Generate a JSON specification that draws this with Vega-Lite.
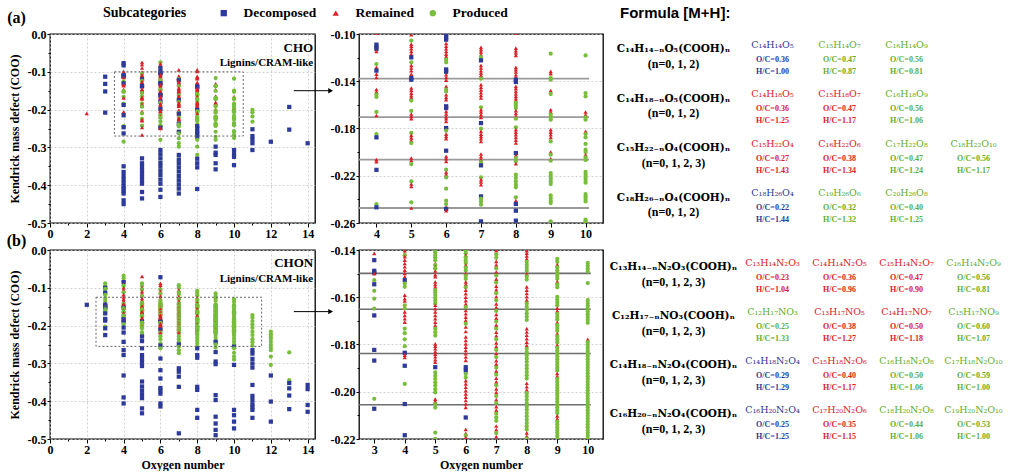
{
"$schema": "https://vega.github.io/schema/vega-lite/v6.json",
"padding": {"left": 6, "top": 5, "right": 0, "bottom": 0},
"background": "#ffffff",
"columns": 3,
"spacing": {"row": 27, "column": 44},
"bounds": "flush",
"resolve": {"scale": {"color": "independent", "shape": "independent"}, "legend": {"color": "independent", "shape": "independent"}},
"config": {
  "font": "Liberation Serif",
  "view": {"stroke": "#000", "strokeWidth": 1.3},
  "axis": {"labelFont": "Liberation Serif", "labelFontWeight": "bold", "labelFontSize": 12, "labelColor": "#000", "titleFont": "Liberation Serif", "titleFontWeight": "bold", "titleFontSize": 12, "titleColor": "#000", "domain": false, "tickColor": "#000", "tickWidth": 1, "gridColor": "#c4c4c4", "gridDash": [2, 2], "gridWidth": 0.8, "tickSize": 4, "labelPadding": 1, "labelFlush": false, "labelOverlap": false, "tickCount": 100}
},
"datasets": {
"A": [
{"o":2,"k":-0.21,"c":"R"},
{"o":3,"k":-0.113,"c":"D"},{"o":3,"k":-0.132,"c":"D"},{"o":3,"k":-0.152,"c":"D"},{"o":3,"k":-0.208,"c":"D"},
{"o":4,"k":-0.077,"c":"D"},{"o":4,"k":-0.083,"c":"D"},{"o":4,"k":-0.099,"c":"R"},{"o":4,"k":-0.109,"c":"D"},{"o":4,"k":-0.111,"c":"D"},{"o":4,"k":-0.1127,"c":"D"},{"o":4,"k":-0.1147,"c":"R"},{"o":4,"k":-0.1254,"c":"P"},{"o":4,"k":-0.1282,"c":"R"},{"o":4,"k":-0.131,"c":"D"},{"o":4,"k":-0.1339,"c":"R"},{"o":4,"k":-0.1367,"c":"R"},{"o":4,"k":-0.147,"c":"R"},{"o":4,"k":-0.149,"c":"R"},{"o":4,"k":-0.1513,"c":"P"},{"o":4,"k":-0.1533,"c":"P"},{"o":4,"k":-0.166,"c":"P"},{"o":4,"k":-0.169,"c":"R"},{"o":4,"k":-0.1847,"c":"P"},{"o":4,"k":-0.1875,"c":"D"},{"o":4,"k":-0.2064,"c":"R"},{"o":4,"k":-0.208,"c":"R"},{"o":4,"k":-0.215,"c":"D"},{"o":4,"k":-0.244,"c":"P"},{"o":4,"k":-0.2467,"c":"D"},{"o":4,"k":-0.263,"c":"D"},{"o":4,"k":-0.285,"c":"P"},{"o":4,"k":-0.35,"c":"D"},{"o":4,"k":-0.365,"c":"D"},{"o":4,"k":-0.376,"c":"D"},{"o":4,"k":-0.385,"c":"D"},{"o":4,"k":-0.394,"c":"D"},{"o":4,"k":-0.403,"c":"D"},{"o":4,"k":-0.409,"c":"D"},{"o":4,"k":-0.415,"c":"D"},{"o":4,"k":-0.422,"c":"D"},{"o":4,"k":-0.44,"c":"D"},{"o":4,"k":-0.45,"c":"D"},
{"o":5,"k":-0.075,"c":"R"},{"o":5,"k":-0.081,"c":"R"},{"o":5,"k":-0.09,"c":"R"},{"o":5,"k":-0.1006,"c":"R"},{"o":5,"k":-0.1056,"c":"P"},{"o":5,"k":-0.1085,"c":"R"},{"o":5,"k":-0.1104,"c":"R"},{"o":5,"k":-0.1124,"c":"R"},{"o":5,"k":-0.1147,"c":"R"},{"o":5,"k":-0.117,"c":"R"},{"o":5,"k":-0.1198,"c":"D"},{"o":5,"k":-0.124,"c":"P"},{"o":5,"k":-0.1265,"c":"R"},{"o":5,"k":-0.1288,"c":"R"},{"o":5,"k":-0.131,"c":"R"},{"o":5,"k":-0.1339,"c":"R"},{"o":5,"k":-0.1373,"c":"D"},{"o":5,"k":-0.1387,"c":"D"},{"o":5,"k":-0.1457,"c":"R"},{"o":5,"k":-0.1477,"c":"R"},{"o":5,"k":-0.15,"c":"R"},{"o":5,"k":-0.1522,"c":"R"},{"o":5,"k":-0.154,"c":"R"},{"o":5,"k":-0.1564,"c":"P"},{"o":5,"k":-0.165,"c":"P"},{"o":5,"k":-0.1677,"c":"R"},{"o":5,"k":-0.1697,"c":"R"},{"o":5,"k":-0.1717,"c":"R"},{"o":5,"k":-0.1838,"c":"P"},{"o":5,"k":-0.1858,"c":"R"},{"o":5,"k":-0.188,"c":"R"},{"o":5,"k":-0.19,"c":"R"},{"o":5,"k":-0.1923,"c":"P"},{"o":5,"k":-0.205,"c":"R"},{"o":5,"k":-0.207,"c":"R"},{"o":5,"k":-0.2101,"c":"P"},{"o":5,"k":-0.2247,"c":"P"},{"o":5,"k":-0.227,"c":"R"},{"o":5,"k":-0.229,"c":"R"},{"o":5,"k":-0.2425,"c":"P"},{"o":5,"k":-0.2473,"c":"R"},{"o":5,"k":-0.267,"c":"R"},{"o":5,"k":-0.329,"c":"D"},{"o":5,"k":-0.342,"c":"D"},{"o":5,"k":-0.351,"c":"D"},{"o":5,"k":-0.36,"c":"D"},{"o":5,"k":-0.369,"c":"D"},{"o":5,"k":-0.378,"c":"D"},{"o":5,"k":-0.387,"c":"D"},{"o":5,"k":-0.396,"c":"D"},{"o":5,"k":-0.418,"c":"D"},{"o":5,"k":-0.435,"c":"D"},
{"o":6,"k":-0.075,"c":"P"},{"o":6,"k":-0.079,"c":"R"},{"o":6,"k":-0.084,"c":"R"},{"o":6,"k":-0.09,"c":"D"},{"o":6,"k":-0.1005,"c":"D"},{"o":6,"k":-0.1028,"c":"D"},{"o":6,"k":-0.1048,"c":"D"},{"o":6,"k":-0.108,"c":"R"},{"o":6,"k":-0.1104,"c":"R"},{"o":6,"k":-0.1124,"c":"R"},{"o":6,"k":-0.1147,"c":"R"},{"o":6,"k":-0.117,"c":"R"},{"o":6,"k":-0.119,"c":"R"},{"o":6,"k":-0.1217,"c":"P"},{"o":6,"k":-0.124,"c":"P"},{"o":6,"k":-0.13,"c":"D"},{"o":6,"k":-0.132,"c":"D"},{"o":6,"k":-0.1345,"c":"R"},{"o":6,"k":-0.1367,"c":"R"},{"o":6,"k":-0.139,"c":"R"},{"o":6,"k":-0.1443,"c":"R"},{"o":6,"k":-0.1471,"c":"P"},{"o":6,"k":-0.1486,"c":"P"},{"o":6,"k":-0.1514,"c":"R"},{"o":6,"k":-0.1536,"c":"R"},{"o":6,"k":-0.1556,"c":"R"},{"o":6,"k":-0.1612,"c":"D"},{"o":6,"k":-0.1627,"c":"D"},{"o":6,"k":-0.1655,"c":"R"},{"o":6,"k":-0.1677,"c":"R"},{"o":6,"k":-0.17,"c":"R"},{"o":6,"k":-0.1717,"c":"R"},{"o":6,"k":-0.174,"c":"R"},{"o":6,"k":-0.1796,"c":"D"},{"o":6,"k":-0.1818,"c":"P"},{"o":6,"k":-0.1847,"c":"R"},{"o":6,"k":-0.1867,"c":"R"},{"o":6,"k":-0.1886,"c":"R"},{"o":6,"k":-0.1988,"c":"D"},{"o":6,"k":-0.2036,"c":"R"},{"o":6,"k":-0.2056,"c":"R"},{"o":6,"k":-0.2078,"c":"R"},{"o":6,"k":-0.2149,"c":"P"},{"o":6,"k":-0.2171,"c":"R"},{"o":6,"k":-0.219,"c":"R"},{"o":6,"k":-0.2214,"c":"P"},{"o":6,"k":-0.231,"c":"P"},{"o":6,"k":-0.2411,"c":"P"},{"o":6,"k":-0.244,"c":"P"},{"o":6,"k":-0.2468,"c":"R"},{"o":6,"k":-0.248,"c":"D"},{"o":6,"k":-0.2496,"c":"R"},{"o":6,"k":-0.28,"c":"P"},{"o":6,"k":-0.307,"c":"D"},{"o":6,"k":-0.318,"c":"D"},{"o":6,"k":-0.329,"c":"D"},{"o":6,"k":-0.341,"c":"D"},{"o":6,"k":-0.351,"c":"D"},{"o":6,"k":-0.362,"c":"D"},{"o":6,"k":-0.373,"c":"D"},{"o":6,"k":-0.385,"c":"D"},{"o":6,"k":-0.396,"c":"D"},{"o":6,"k":-0.412,"c":"D"},{"o":6,"k":-0.431,"c":"D"},
{"o":7,"k":-0.095,"c":"R"},{"o":7,"k":-0.1113,"c":"R"},{"o":7,"k":-0.1133,"c":"R"},{"o":7,"k":-0.1152,"c":"R"},{"o":7,"k":-0.1175,"c":"R"},{"o":7,"k":-0.1195,"c":"P"},{"o":7,"k":-0.1223,"c":"D"},{"o":7,"k":-0.1265,"c":"R"},{"o":7,"k":-0.1288,"c":"R"},{"o":7,"k":-0.131,"c":"R"},{"o":7,"k":-0.133,"c":"R"},{"o":7,"k":-0.135,"c":"R"},{"o":7,"k":-0.1378,"c":"P"},{"o":7,"k":-0.1429,"c":"R"},{"o":7,"k":-0.1452,"c":"R"},{"o":7,"k":-0.1474,"c":"R"},{"o":7,"k":-0.1497,"c":"R"},{"o":7,"k":-0.152,"c":"R"},{"o":7,"k":-0.1542,"c":"R"},{"o":7,"k":-0.1621,"c":"P"},{"o":7,"k":-0.1641,"c":"R"},{"o":7,"k":-0.166,"c":"R"},{"o":7,"k":-0.1683,"c":"R"},{"o":7,"k":-0.1706,"c":"R"},{"o":7,"k":-0.1754,"c":"D"},{"o":7,"k":-0.1802,"c":"P"},{"o":7,"k":-0.1824,"c":"R"},{"o":7,"k":-0.1847,"c":"R"},{"o":7,"k":-0.1867,"c":"R"},{"o":7,"k":-0.1886,"c":"R"},{"o":7,"k":-0.1909,"c":"R"},{"o":7,"k":-0.2016,"c":"R"},{"o":7,"k":-0.2039,"c":"R"},{"o":7,"k":-0.2061,"c":"R"},{"o":7,"k":-0.2084,"c":"P"},{"o":7,"k":-0.2112,"c":"D"},{"o":7,"k":-0.2214,"c":"P"},{"o":7,"k":-0.2233,"c":"R"},{"o":7,"k":-0.2253,"c":"R"},{"o":7,"k":-0.2276,"c":"R"},{"o":7,"k":-0.2375,"c":"D"},{"o":7,"k":-0.2394,"c":"P"},{"o":7,"k":-0.2417,"c":"P"},{"o":7,"k":-0.2445,"c":"P"},{"o":7,"k":-0.2586,"c":"D"},{"o":7,"k":-0.263,"c":"P"},{"o":7,"k":-0.276,"c":"P"},{"o":7,"k":-0.289,"c":"P"},{"o":7,"k":-0.298,"c":"P"},{"o":7,"k":-0.32,"c":"D"},{"o":7,"k":-0.332,"c":"D"},{"o":7,"k":-0.342,"c":"D"},{"o":7,"k":-0.353,"c":"D"},{"o":7,"k":-0.364,"c":"D"},{"o":7,"k":-0.376,"c":"D"},{"o":7,"k":-0.387,"c":"D"},{"o":7,"k":-0.398,"c":"D"},{"o":7,"k":-0.409,"c":"D"},{"o":7,"k":-0.422,"c":"D"},
{"o":8,"k":-0.095,"c":"R"},{"o":8,"k":-0.099,"c":"R"},{"o":8,"k":-0.1119,"c":"R"},{"o":8,"k":-0.1141,"c":"R"},{"o":8,"k":-0.1161,"c":"R"},{"o":8,"k":-0.1181,"c":"R"},{"o":8,"k":-0.1282,"c":"R"},{"o":8,"k":-0.1302,"c":"R"},{"o":8,"k":-0.1322,"c":"R"},{"o":8,"k":-0.1345,"c":"R"},{"o":8,"k":-0.1364,"c":"R"},{"o":8,"k":-0.1387,"c":"D"},{"o":8,"k":-0.1406,"c":"D"},{"o":8,"k":-0.1443,"c":"R"},{"o":8,"k":-0.1463,"c":"R"},{"o":8,"k":-0.1485,"c":"R"},{"o":8,"k":-0.1508,"c":"R"},{"o":8,"k":-0.1528,"c":"R"},{"o":8,"k":-0.1548,"c":"R"},{"o":8,"k":-0.1564,"c":"R"},{"o":8,"k":-0.1584,"c":"P"},{"o":8,"k":-0.1604,"c":"P"},{"o":8,"k":-0.1627,"c":"P"},{"o":8,"k":-0.1649,"c":"R"},{"o":8,"k":-0.1672,"c":"R"},{"o":8,"k":-0.1694,"c":"R"},{"o":8,"k":-0.1717,"c":"P"},{"o":8,"k":-0.179,"c":"P"},{"o":8,"k":-0.181,"c":"R"},{"o":8,"k":-0.183,"c":"R"},{"o":8,"k":-0.1852,"c":"R"},{"o":8,"k":-0.1875,"c":"R"},{"o":8,"k":-0.1898,"c":"R"},{"o":8,"k":-0.1923,"c":"R"},{"o":8,"k":-0.2008,"c":"D"},{"o":8,"k":-0.2027,"c":"R"},{"o":8,"k":-0.205,"c":"P"},{"o":8,"k":-0.2078,"c":"P"},{"o":8,"k":-0.2098,"c":"R"},{"o":8,"k":-0.2191,"c":"P"},{"o":8,"k":-0.2219,"c":"P"},{"o":8,"k":-0.2248,"c":"P"},{"o":8,"k":-0.2276,"c":"P"},{"o":8,"k":-0.2298,"c":"P"},{"o":8,"k":-0.2383,"c":"P"},{"o":8,"k":-0.2411,"c":"R"},{"o":8,"k":-0.2439,"c":"D"},{"o":8,"k":-0.2496,"c":"D"},{"o":8,"k":-0.258,"c":"D"},{"o":8,"k":-0.263,"c":"D"},{"o":8,"k":-0.272,"c":"D"},{"o":8,"k":-0.28,"c":"P"},{"o":8,"k":-0.298,"c":"P"},{"o":8,"k":-0.32,"c":"P"},{"o":8,"k":-0.33,"c":"D"},{"o":8,"k":-0.342,"c":"D"},{"o":8,"k":-0.353,"c":"D"},{"o":8,"k":-0.41,"c":"D"},
{"o":9,"k":-0.1167,"c":"P"},{"o":9,"k":-0.1316,"c":"R"},{"o":9,"k":-0.1336,"c":"R"},{"o":9,"k":-0.1373,"c":"P"},{"o":9,"k":-0.1387,"c":"P"},{"o":9,"k":-0.148,"c":"R"},{"o":9,"k":-0.1508,"c":"P"},{"o":9,"k":-0.1641,"c":"R"},{"o":9,"k":-0.166,"c":"R"},{"o":9,"k":-0.1683,"c":"P"},{"o":9,"k":-0.1706,"c":"P"},{"o":9,"k":-0.1725,"c":"P"},{"o":9,"k":-0.181,"c":"R"},{"o":9,"k":-0.183,"c":"R"},{"o":9,"k":-0.1852,"c":"R"},{"o":9,"k":-0.1875,"c":"R"},{"o":9,"k":-0.1909,"c":"P"},{"o":9,"k":-0.1999,"c":"R"},{"o":9,"k":-0.2022,"c":"P"},{"o":9,"k":-0.2056,"c":"R"},{"o":9,"k":-0.2073,"c":"P"},{"o":9,"k":-0.2177,"c":"P"},{"o":9,"k":-0.22,"c":"P"},{"o":9,"k":-0.2225,"c":"P"},{"o":9,"k":-0.2248,"c":"P"},{"o":9,"k":-0.227,"c":"P"},{"o":9,"k":-0.2366,"c":"P"},{"o":9,"k":-0.2389,"c":"P"},{"o":9,"k":-0.2411,"c":"P"},{"o":9,"k":-0.2431,"c":"P"},{"o":9,"k":-0.2586,"c":"P"},{"o":9,"k":-0.272,"c":"P"},{"o":9,"k":-0.28,"c":"P"},{"o":9,"k":-0.298,"c":"D"},{"o":9,"k":-0.314,"c":"D"},{"o":9,"k":-0.32,"c":"D"},{"o":9,"k":-0.342,"c":"D"},{"o":9,"k":-0.358,"c":"D"},
{"o":10,"k":-0.1181,"c":"P"},{"o":10,"k":-0.15,"c":"P"},{"o":10,"k":-0.1528,"c":"P"},{"o":10,"k":-0.166,"c":"R"},{"o":10,"k":-0.1683,"c":"R"},{"o":10,"k":-0.1706,"c":"P"},{"o":10,"k":-0.1725,"c":"P"},{"o":10,"k":-0.1824,"c":"R"},{"o":10,"k":-0.1847,"c":"P"},{"o":10,"k":-0.1875,"c":"P"},{"o":10,"k":-0.1931,"c":"P"},{"o":10,"k":-0.1979,"c":"P"},{"o":10,"k":-0.1999,"c":"P"},{"o":10,"k":-0.2022,"c":"R"},{"o":10,"k":-0.2044,"c":"P"},{"o":10,"k":-0.2067,"c":"P"},{"o":10,"k":-0.2168,"c":"P"},{"o":10,"k":-0.2191,"c":"P"},{"o":10,"k":-0.2214,"c":"P"},{"o":10,"k":-0.2236,"c":"P"},{"o":10,"k":-0.2259,"c":"P"},{"o":10,"k":-0.2355,"c":"P"},{"o":10,"k":-0.2375,"c":"P"},{"o":10,"k":-0.2394,"c":"P"},{"o":10,"k":-0.2417,"c":"P"},{"o":10,"k":-0.2572,"c":"P"},{"o":10,"k":-0.2586,"c":"P"},{"o":10,"k":-0.267,"c":"P"},{"o":10,"k":-0.275,"c":"P"},{"o":10,"k":-0.307,"c":"D"},{"o":10,"k":-0.316,"c":"D"},{"o":10,"k":-0.325,"c":"D"},{"o":10,"k":-0.347,"c":"D"},
{"o":11,"k":-0.201,"c":"P"},{"o":11,"k":-0.207,"c":"P"},{"o":11,"k":-0.218,"c":"P"},{"o":11,"k":-0.232,"c":"P"},{"o":11,"k":-0.252,"c":"D"},{"o":11,"k":-0.27,"c":"D"},{"o":11,"k":-0.279,"c":"D"},{"o":11,"k":-0.289,"c":"D"},{"o":11,"k":-0.307,"c":"D"},
{"o":12,"k":-0.285,"c":"D"},
{"o":13,"k":-0.193,"c":"D"},{"o":13,"k":-0.253,"c":"D"},
{"o":14,"k":-0.289,"c":"D"}
],
"B": [
{"o":2,"k":-0.145,"c":"D"},
{"o":3,"k":-0.088,"c":"P"},{"o":3,"k":-0.095,"c":"P"},{"o":3,"k":-0.1,"c":"D"},{"o":3,"k":-0.103,"c":"P"},{"o":3,"k":-0.111,"c":"P"},{"o":3,"k":-0.113,"c":"D"},{"o":3,"k":-0.119,"c":"P"},{"o":3,"k":-0.127,"c":"P"},{"o":3,"k":-0.134,"c":"P"},{"o":3,"k":-0.1414,"c":"R"},{"o":3,"k":-0.1443,"c":"D"},{"o":3,"k":-0.1488,"c":"D"},{"o":3,"k":-0.1496,"c":"D"},{"o":3,"k":-0.15,"c":"R"},{"o":3,"k":-0.1528,"c":"P"},{"o":3,"k":-0.1545,"c":"D"},{"o":3,"k":-0.1573,"c":"P"},{"o":3,"k":-0.1606,"c":"P"},{"o":3,"k":-0.1648,"c":"P"},{"o":3,"k":-0.1677,"c":"D"},{"o":3,"k":-0.1823,"c":"D"},{"o":3,"k":-0.1868,"c":"D"},{"o":3,"k":-0.203,"c":"P"},{"o":3,"k":-0.2072,"c":"D"},{"o":3,"k":-0.225,"c":"D"},
{"o":4,"k":-0.068,"c":"P"},{"o":4,"k":-0.075,"c":"P"},{"o":4,"k":-0.083,"c":"P"},{"o":4,"k":-0.085,"c":"D"},{"o":4,"k":-0.09,"c":"R"},{"o":4,"k":-0.095,"c":"P"},{"o":4,"k":-0.1,"c":"R"},{"o":4,"k":-0.106,"c":"R"},{"o":4,"k":-0.112,"c":"P"},{"o":4,"k":-0.118,"c":"R"},{"o":4,"k":-0.124,"c":"R"},{"o":4,"k":-0.13,"c":"R"},{"o":4,"k":-0.135,"c":"R"},{"o":4,"k":-0.1403,"c":"R"},{"o":4,"k":-0.1415,"c":"R"},{"o":4,"k":-0.1422,"c":"P"},{"o":4,"k":-0.1428,"c":"R"},{"o":4,"k":-0.1443,"c":"R"},{"o":4,"k":-0.1457,"c":"R"},{"o":4,"k":-0.1471,"c":"R"},{"o":4,"k":-0.1485,"c":"R"},{"o":4,"k":-0.1499,"c":"R"},{"o":4,"k":-0.1513,"c":"R"},{"o":4,"k":-0.1528,"c":"D"},{"o":4,"k":-0.1542,"c":"P"},{"o":4,"k":-0.1556,"c":"P"},{"o":4,"k":-0.1591,"c":"R"},{"o":4,"k":-0.1606,"c":"R"},{"o":4,"k":-0.1616,"c":"R"},{"o":4,"k":-0.1634,"c":"P"},{"o":4,"k":-0.1648,"c":"P"},{"o":4,"k":-0.1662,"c":"R"},{"o":4,"k":-0.1677,"c":"R"},{"o":4,"k":-0.1691,"c":"R"},{"o":4,"k":-0.1705,"c":"R"},{"o":4,"k":-0.1733,"c":"P"},{"o":4,"k":-0.1752,"c":"P"},{"o":4,"k":-0.1778,"c":"P"},{"o":4,"k":-0.1807,"c":"P"},{"o":4,"k":-0.1835,"c":"D"},{"o":4,"k":-0.1845,"c":"R"},{"o":4,"k":-0.1855,"c":"R"},{"o":4,"k":-0.189,"c":"D"},{"o":4,"k":-0.1967,"c":"P"},{"o":4,"k":-0.2052,"c":"D"},{"o":4,"k":-0.2184,"c":"D"},{"o":4,"k":-0.243,"c":"D"},{"o":4,"k":-0.265,"c":"D"},{"o":4,"k":-0.278,"c":"D"},{"o":4,"k":-0.332,"c":"D"},{"o":4,"k":-0.39,"c":"D"},{"o":4,"k":-0.406,"c":"D"},
{"o":5,"k":-0.07,"c":"R"},{"o":5,"k":-0.088,"c":"P"},{"o":5,"k":-0.095,"c":"P"},{"o":5,"k":-0.1,"c":"R"},{"o":5,"k":-0.105,"c":"P"},{"o":5,"k":-0.11,"c":"R"},{"o":5,"k":-0.116,"c":"R"},{"o":5,"k":-0.122,"c":"P"},{"o":5,"k":-0.128,"c":"R"},{"o":5,"k":-0.134,"c":"R"},{"o":5,"k":-0.14,"c":"P"},{"o":5,"k":-0.141,"c":"P"},{"o":5,"k":-0.1421,"c":"P"},{"o":5,"k":-0.1431,"c":"P"},{"o":5,"k":-0.1443,"c":"P"},{"o":5,"k":-0.1457,"c":"R"},{"o":5,"k":-0.1464,"c":"P"},{"o":5,"k":-0.1471,"c":"R"},{"o":5,"k":-0.1478,"c":"P"},{"o":5,"k":-0.1489,"c":"R"},{"o":5,"k":-0.1504,"c":"R"},{"o":5,"k":-0.1513,"c":"R"},{"o":5,"k":-0.1535,"c":"R"},{"o":5,"k":-0.1546,"c":"R"},{"o":5,"k":-0.1556,"c":"R"},{"o":5,"k":-0.157,"c":"P"},{"o":5,"k":-0.158,"c":"P"},{"o":5,"k":-0.1591,"c":"P"},{"o":5,"k":-0.1603,"c":"P"},{"o":5,"k":-0.1614,"c":"P"},{"o":5,"k":-0.1626,"c":"P"},{"o":5,"k":-0.1634,"c":"R"},{"o":5,"k":-0.1648,"c":"R"},{"o":5,"k":-0.1662,"c":"R"},{"o":5,"k":-0.1677,"c":"R"},{"o":5,"k":-0.1691,"c":"R"},{"o":5,"k":-0.1705,"c":"R"},{"o":5,"k":-0.1719,"c":"R"},{"o":5,"k":-0.1733,"c":"P"},{"o":5,"k":-0.1748,"c":"P"},{"o":5,"k":-0.1762,"c":"P"},{"o":5,"k":-0.1797,"c":"R"},{"o":5,"k":-0.1807,"c":"R"},{"o":5,"k":-0.1818,"c":"R"},{"o":5,"k":-0.183,"c":"R"},{"o":5,"k":-0.1841,"c":"R"},{"o":5,"k":-0.1852,"c":"R"},{"o":5,"k":-0.1864,"c":"R"},{"o":5,"k":-0.1875,"c":"R"},{"o":5,"k":-0.1896,"c":"D"},{"o":5,"k":-0.1918,"c":"P"},{"o":5,"k":-0.1932,"c":"P"},{"o":5,"k":-0.1946,"c":"P"},{"o":5,"k":-0.196,"c":"P"},{"o":5,"k":-0.1974,"c":"P"},{"o":5,"k":-0.1989,"c":"P"},{"o":5,"k":-0.2003,"c":"P"},{"o":5,"k":-0.2031,"c":"R"},{"o":5,"k":-0.2041,"c":"R"},{"o":5,"k":-0.2052,"c":"P"},{"o":5,"k":-0.2067,"c":"P"},{"o":5,"k":-0.2173,"c":"P"},{"o":5,"k":-0.2199,"c":"P"},{"o":5,"k":-0.225,"c":"P"},{"o":5,"k":-0.229,"c":"D"},{"o":5,"k":-0.241,"c":"D"},{"o":5,"k":-0.26,"c":"D"},{"o":5,"k":-0.278,"c":"D"},{"o":5,"k":-0.288,"c":"D"},{"o":5,"k":-0.297,"c":"D"},{"o":5,"k":-0.307,"c":"D"},{"o":5,"k":-0.348,"c":"D"},{"o":5,"k":-0.361,"c":"D"},{"o":5,"k":-0.372,"c":"D"},{"o":5,"k":-0.382,"c":"D"},{"o":5,"k":-0.392,"c":"D"},{"o":5,"k":-0.419,"c":"D"},{"o":5,"k":-0.432,"c":"D"},
{"o":6,"k":-0.072,"c":"D"},{"o":6,"k":-0.088,"c":"R"},{"o":6,"k":-0.093,"c":"R"},{"o":6,"k":-0.1,"c":"R"},{"o":6,"k":-0.105,"c":"P"},{"o":6,"k":-0.11,"c":"R"},{"o":6,"k":-0.116,"c":"P"},{"o":6,"k":-0.122,"c":"R"},{"o":6,"k":-0.128,"c":"R"},{"o":6,"k":-0.134,"c":"P"},{"o":6,"k":-0.1403,"c":"P"},{"o":6,"k":-0.1414,"c":"P"},{"o":6,"k":-0.1422,"c":"R"},{"o":6,"k":-0.1431,"c":"P"},{"o":6,"k":-0.1443,"c":"P"},{"o":6,"k":-0.1455,"c":"P"},{"o":6,"k":-0.1464,"c":"R"},{"o":6,"k":-0.1475,"c":"P"},{"o":6,"k":-0.1487,"c":"P"},{"o":6,"k":-0.1499,"c":"R"},{"o":6,"k":-0.151,"c":"P"},{"o":6,"k":-0.1522,"c":"P"},{"o":6,"k":-0.1535,"c":"R"},{"o":6,"k":-0.1546,"c":"R"},{"o":6,"k":-0.1558,"c":"P"},{"o":6,"k":-0.157,"c":"R"},{"o":6,"k":-0.1585,"c":"R"},{"o":6,"k":-0.16,"c":"R"},{"o":6,"k":-0.1614,"c":"R"},{"o":6,"k":-0.1628,"c":"R"},{"o":6,"k":-0.1642,"c":"P"},{"o":6,"k":-0.1656,"c":"R"},{"o":6,"k":-0.167,"c":"R"},{"o":6,"k":-0.1684,"c":"R"},{"o":6,"k":-0.1698,"c":"R"},{"o":6,"k":-0.1712,"c":"P"},{"o":6,"k":-0.1726,"c":"R"},{"o":6,"k":-0.1745,"c":"R"},{"o":6,"k":-0.1768,"c":"R"},{"o":6,"k":-0.1783,"c":"R"},{"o":6,"k":-0.1797,"c":"R"},{"o":6,"k":-0.1811,"c":"R"},{"o":6,"k":-0.1825,"c":"R"},{"o":6,"k":-0.1839,"c":"R"},{"o":6,"k":-0.1853,"c":"R"},{"o":6,"k":-0.1867,"c":"R"},{"o":6,"k":-0.1896,"c":"D"},{"o":6,"k":-0.191,"c":"D"},{"o":6,"k":-0.1925,"c":"P"},{"o":6,"k":-0.194,"c":"P"},{"o":6,"k":-0.1953,"c":"R"},{"o":6,"k":-0.1967,"c":"R"},{"o":6,"k":-0.1981,"c":"R"},{"o":6,"k":-0.1995,"c":"R"},{"o":6,"k":-0.2009,"c":"R"},{"o":6,"k":-0.2023,"c":"R"},{"o":6,"k":-0.2037,"c":"R"},{"o":6,"k":-0.2052,"c":"R"},{"o":6,"k":-0.2066,"c":"R"},{"o":6,"k":-0.2109,"c":"D"},{"o":6,"k":-0.2159,"c":"R"},{"o":6,"k":-0.2176,"c":"R"},{"o":6,"k":-0.2185,"c":"P"},{"o":6,"k":-0.2194,"c":"R"},{"o":6,"k":-0.228,"c":"P"},{"o":6,"k":-0.236,"c":"P"},{"o":6,"k":-0.247,"c":"P"},{"o":6,"k":-0.253,"c":"D"},{"o":6,"k":-0.26,"c":"P"},{"o":6,"k":-0.287,"c":"D"},{"o":6,"k":-0.318,"c":"D"},{"o":6,"k":-0.34,"c":"D"},{"o":6,"k":-0.365,"c":"D"},{"o":6,"k":-0.372,"c":"D"},{"o":6,"k":-0.38,"c":"D"},{"o":6,"k":-0.406,"c":"D"},{"o":6,"k":-0.414,"c":"D"},
{"o":7,"k":-0.093,"c":"P"},{"o":7,"k":-0.1,"c":"P"},{"o":7,"k":-0.106,"c":"R"},{"o":7,"k":-0.112,"c":"P"},{"o":7,"k":-0.118,"c":"P"},{"o":7,"k":-0.124,"c":"R"},{"o":7,"k":-0.13,"c":"P"},{"o":7,"k":-0.135,"c":"R"},{"o":7,"k":-0.1403,"c":"R"},{"o":7,"k":-0.1418,"c":"P"},{"o":7,"k":-0.1433,"c":"P"},{"o":7,"k":-0.1448,"c":"R"},{"o":7,"k":-0.1463,"c":"R"},{"o":7,"k":-0.1478,"c":"P"},{"o":7,"k":-0.1493,"c":"R"},{"o":7,"k":-0.1508,"c":"P"},{"o":7,"k":-0.1523,"c":"R"},{"o":7,"k":-0.1538,"c":"P"},{"o":7,"k":-0.1553,"c":"R"},{"o":7,"k":-0.1568,"c":"R"},{"o":7,"k":-0.1583,"c":"P"},{"o":7,"k":-0.1598,"c":"R"},{"o":7,"k":-0.1613,"c":"P"},{"o":7,"k":-0.1628,"c":"R"},{"o":7,"k":-0.1643,"c":"R"},{"o":7,"k":-0.1658,"c":"P"},{"o":7,"k":-0.1673,"c":"R"},{"o":7,"k":-0.1688,"c":"R"},{"o":7,"k":-0.1703,"c":"P"},{"o":7,"k":-0.1718,"c":"R"},{"o":7,"k":-0.1733,"c":"P"},{"o":7,"k":-0.1748,"c":"R"},{"o":7,"k":-0.1763,"c":"R"},{"o":7,"k":-0.1778,"c":"P"},{"o":7,"k":-0.1793,"c":"R"},{"o":7,"k":-0.1808,"c":"R"},{"o":7,"k":-0.1823,"c":"P"},{"o":7,"k":-0.1838,"c":"R"},{"o":7,"k":-0.1853,"c":"P"},{"o":7,"k":-0.1868,"c":"R"},{"o":7,"k":-0.1883,"c":"R"},{"o":7,"k":-0.1898,"c":"P"},{"o":7,"k":-0.1913,"c":"R"},{"o":7,"k":-0.1928,"c":"P"},{"o":7,"k":-0.1943,"c":"R"},{"o":7,"k":-0.1958,"c":"R"},{"o":7,"k":-0.1973,"c":"P"},{"o":7,"k":-0.1988,"c":"R"},{"o":7,"k":-0.2003,"c":"R"},{"o":7,"k":-0.2018,"c":"P"},{"o":7,"k":-0.2033,"c":"R"},{"o":7,"k":-0.2048,"c":"P"},{"o":7,"k":-0.2063,"c":"R"},{"o":7,"k":-0.2078,"c":"R"},{"o":7,"k":-0.2093,"c":"P"},{"o":7,"k":-0.2108,"c":"P"},{"o":7,"k":-0.2123,"c":"P"},{"o":7,"k":-0.2145,"c":"R"},{"o":7,"k":-0.216,"c":"R"},{"o":7,"k":-0.2175,"c":"P"},{"o":7,"k":-0.219,"c":"R"},{"o":7,"k":-0.228,"c":"P"},{"o":7,"k":-0.236,"c":"P"},{"o":7,"k":-0.243,"c":"P"},{"o":7,"k":-0.25,"c":"D"},{"o":7,"k":-0.256,"c":"P"},{"o":7,"k":-0.265,"c":"P"},{"o":7,"k":-0.273,"c":"P"},{"o":7,"k":-0.313,"c":"D"},{"o":7,"k":-0.322,"c":"D"},{"o":7,"k":-0.335,"c":"D"},{"o":7,"k":-0.362,"c":"D"},{"o":7,"k":-0.485,"c":"D"},
{"o":8,"k":-0.108,"c":"P"},{"o":8,"k":-0.114,"c":"P"},{"o":8,"k":-0.12,"c":"P"},{"o":8,"k":-0.126,"c":"R"},{"o":8,"k":-0.132,"c":"P"},{"o":8,"k":-0.138,"c":"P"},{"o":8,"k":-0.1403,"c":"R"},{"o":8,"k":-0.1413,"c":"R"},{"o":8,"k":-0.1425,"c":"R"},{"o":8,"k":-0.1437,"c":"R"},{"o":8,"k":-0.145,"c":"P"},{"o":8,"k":-0.1462,"c":"P"},{"o":8,"k":-0.1475,"c":"P"},{"o":8,"k":-0.1488,"c":"P"},{"o":8,"k":-0.15,"c":"R"},{"o":8,"k":-0.1512,"c":"P"},{"o":8,"k":-0.1525,"c":"P"},{"o":8,"k":-0.1556,"c":"R"},{"o":8,"k":-0.157,"c":"R"},{"o":8,"k":-0.1584,"c":"R"},{"o":8,"k":-0.1598,"c":"R"},{"o":8,"k":-0.1612,"c":"R"},{"o":8,"k":-0.1626,"c":"P"},{"o":8,"k":-0.164,"c":"P"},{"o":8,"k":-0.1654,"c":"P"},{"o":8,"k":-0.1668,"c":"P"},{"o":8,"k":-0.1682,"c":"P"},{"o":8,"k":-0.1696,"c":"P"},{"o":8,"k":-0.1733,"c":"R"},{"o":8,"k":-0.1747,"c":"R"},{"o":8,"k":-0.1761,"c":"R"},{"o":8,"k":-0.1775,"c":"R"},{"o":8,"k":-0.179,"c":"R"},{"o":8,"k":-0.1804,"c":"R"},{"o":8,"k":-0.1818,"c":"P"},{"o":8,"k":-0.1832,"c":"P"},{"o":8,"k":-0.1846,"c":"P"},{"o":8,"k":-0.186,"c":"P"},{"o":8,"k":-0.1874,"c":"P"},{"o":8,"k":-0.1888,"c":"P"},{"o":8,"k":-0.1902,"c":"P"},{"o":8,"k":-0.1916,"c":"P"},{"o":8,"k":-0.193,"c":"P"},{"o":8,"k":-0.1944,"c":"P"},{"o":8,"k":-0.1964,"c":"R"},{"o":8,"k":-0.1978,"c":"R"},{"o":8,"k":-0.1992,"c":"R"},{"o":8,"k":-0.2006,"c":"P"},{"o":8,"k":-0.202,"c":"P"},{"o":8,"k":-0.2034,"c":"P"},{"o":8,"k":-0.2048,"c":"P"},{"o":8,"k":-0.2062,"c":"P"},{"o":8,"k":-0.2076,"c":"P"},{"o":8,"k":-0.209,"c":"P"},{"o":8,"k":-0.2104,"c":"P"},{"o":8,"k":-0.2118,"c":"P"},{"o":8,"k":-0.2132,"c":"P"},{"o":8,"k":-0.2146,"c":"P"},{"o":8,"k":-0.216,"c":"P"},{"o":8,"k":-0.2174,"c":"R"},{"o":8,"k":-0.2188,"c":"R"},{"o":8,"k":-0.2198,"c":"P"},{"o":8,"k":-0.225,"c":"P"},{"o":8,"k":-0.232,"c":"P"},{"o":8,"k":-0.24,"c":"P"},{"o":8,"k":-0.248,"c":"P"},{"o":8,"k":-0.256,"c":"P"},{"o":8,"k":-0.26,"c":"D"},{"o":8,"k":-0.278,"c":"D"},{"o":8,"k":-0.285,"c":"D"},{"o":8,"k":-0.362,"c":"D"},{"o":8,"k":-0.37,"c":"D"},{"o":8,"k":-0.423,"c":"D"},{"o":8,"k":-0.444,"c":"D"},
{"o":9,"k":-0.115,"c":"P"},{"o":9,"k":-0.122,"c":"P"},{"o":9,"k":-0.128,"c":"P"},{"o":9,"k":-0.134,"c":"P"},{"o":9,"k":-0.1438,"c":"P"},{"o":9,"k":-0.145,"c":"P"},{"o":9,"k":-0.1462,"c":"R"},{"o":9,"k":-0.1474,"c":"P"},{"o":9,"k":-0.1486,"c":"P"},{"o":9,"k":-0.1498,"c":"P"},{"o":9,"k":-0.151,"c":"P"},{"o":9,"k":-0.1522,"c":"P"},{"o":9,"k":-0.1534,"c":"R"},{"o":9,"k":-0.1546,"c":"P"},{"o":9,"k":-0.1558,"c":"P"},{"o":9,"k":-0.1598,"c":"P"},{"o":9,"k":-0.161,"c":"P"},{"o":9,"k":-0.1622,"c":"P"},{"o":9,"k":-0.1634,"c":"P"},{"o":9,"k":-0.1646,"c":"R"},{"o":9,"k":-0.1658,"c":"R"},{"o":9,"k":-0.167,"c":"P"},{"o":9,"k":-0.1682,"c":"P"},{"o":9,"k":-0.1694,"c":"P"},{"o":9,"k":-0.1706,"c":"R"},{"o":9,"k":-0.1718,"c":"P"},{"o":9,"k":-0.173,"c":"P"},{"o":9,"k":-0.1742,"c":"P"},{"o":9,"k":-0.1754,"c":"R"},{"o":9,"k":-0.1766,"c":"P"},{"o":9,"k":-0.1778,"c":"P"},{"o":9,"k":-0.179,"c":"P"},{"o":9,"k":-0.1802,"c":"R"},{"o":9,"k":-0.1814,"c":"P"},{"o":9,"k":-0.1826,"c":"P"},{"o":9,"k":-0.1838,"c":"P"},{"o":9,"k":-0.185,"c":"P"},{"o":9,"k":-0.1862,"c":"P"},{"o":9,"k":-0.1874,"c":"P"},{"o":9,"k":-0.1886,"c":"P"},{"o":9,"k":-0.1898,"c":"P"},{"o":9,"k":-0.191,"c":"P"},{"o":9,"k":-0.1922,"c":"R"},{"o":9,"k":-0.1934,"c":"R"},{"o":9,"k":-0.1946,"c":"P"},{"o":9,"k":-0.1958,"c":"P"},{"o":9,"k":-0.197,"c":"P"},{"o":9,"k":-0.1982,"c":"P"},{"o":9,"k":-0.1994,"c":"P"},{"o":9,"k":-0.2006,"c":"P"},{"o":9,"k":-0.2018,"c":"P"},{"o":9,"k":-0.203,"c":"P"},{"o":9,"k":-0.2042,"c":"P"},{"o":9,"k":-0.2054,"c":"P"},{"o":9,"k":-0.2066,"c":"P"},{"o":9,"k":-0.2078,"c":"P"},{"o":9,"k":-0.209,"c":"P"},{"o":9,"k":-0.2102,"c":"R"},{"o":9,"k":-0.2114,"c":"R"},{"o":9,"k":-0.2126,"c":"P"},{"o":9,"k":-0.2138,"c":"P"},{"o":9,"k":-0.215,"c":"P"},{"o":9,"k":-0.2162,"c":"P"},{"o":9,"k":-0.2174,"c":"P"},{"o":9,"k":-0.2186,"c":"P"},{"o":9,"k":-0.2198,"c":"P"},{"o":9,"k":-0.225,"c":"P"},{"o":9,"k":-0.232,"c":"P"},{"o":9,"k":-0.24,"c":"P"},{"o":9,"k":-0.243,"c":"D"},{"o":9,"k":-0.25,"c":"P"},{"o":9,"k":-0.258,"c":"P"},{"o":9,"k":-0.27,"c":"D"},{"o":9,"k":-0.295,"c":"D"},{"o":9,"k":-0.302,"c":"D"},{"o":9,"k":-0.384,"c":"D"},{"o":9,"k":-0.397,"c":"D"},{"o":9,"k":-0.441,"c":"D"},{"o":9,"k":-0.459,"c":"D"},{"o":9,"k":-0.476,"c":"D"},{"o":9,"k":-0.49,"c":"D"},
{"o":10,"k":-0.13,"c":"P"},{"o":10,"k":-0.137,"c":"P"},{"o":10,"k":-0.1455,"c":"P"},{"o":10,"k":-0.1467,"c":"P"},{"o":10,"k":-0.1479,"c":"P"},{"o":10,"k":-0.1491,"c":"P"},{"o":10,"k":-0.154,"c":"P"},{"o":10,"k":-0.1612,"c":"P"},{"o":10,"k":-0.1624,"c":"P"},{"o":10,"k":-0.1636,"c":"P"},{"o":10,"k":-0.1648,"c":"P"},{"o":10,"k":-0.166,"c":"P"},{"o":10,"k":-0.1672,"c":"P"},{"o":10,"k":-0.1684,"c":"P"},{"o":10,"k":-0.1696,"c":"P"},{"o":10,"k":-0.1708,"c":"P"},{"o":10,"k":-0.1778,"c":"R"},{"o":10,"k":-0.179,"c":"P"},{"o":10,"k":-0.1802,"c":"P"},{"o":10,"k":-0.1814,"c":"P"},{"o":10,"k":-0.1826,"c":"P"},{"o":10,"k":-0.1838,"c":"P"},{"o":10,"k":-0.185,"c":"P"},{"o":10,"k":-0.1862,"c":"P"},{"o":10,"k":-0.1874,"c":"P"},{"o":10,"k":-0.1886,"c":"P"},{"o":10,"k":-0.1898,"c":"P"},{"o":10,"k":-0.191,"c":"P"},{"o":10,"k":-0.1922,"c":"P"},{"o":10,"k":-0.1934,"c":"P"},{"o":10,"k":-0.1946,"c":"P"},{"o":10,"k":-0.1958,"c":"P"},{"o":10,"k":-0.197,"c":"P"},{"o":10,"k":-0.1982,"c":"P"},{"o":10,"k":-0.1994,"c":"P"},{"o":10,"k":-0.2006,"c":"P"},{"o":10,"k":-0.2018,"c":"P"},{"o":10,"k":-0.203,"c":"P"},{"o":10,"k":-0.2042,"c":"P"},{"o":10,"k":-0.2054,"c":"P"},{"o":10,"k":-0.2066,"c":"P"},{"o":10,"k":-0.2078,"c":"P"},{"o":10,"k":-0.209,"c":"P"},{"o":10,"k":-0.2102,"c":"P"},{"o":10,"k":-0.2114,"c":"P"},{"o":10,"k":-0.2126,"c":"P"},{"o":10,"k":-0.2138,"c":"P"},{"o":10,"k":-0.215,"c":"P"},{"o":10,"k":-0.2162,"c":"P"},{"o":10,"k":-0.2174,"c":"P"},{"o":10,"k":-0.2186,"c":"P"},{"o":10,"k":-0.2198,"c":"P"},{"o":10,"k":-0.226,"c":"P"},{"o":10,"k":-0.234,"c":"P"},{"o":10,"k":-0.242,"c":"P"},{"o":10,"k":-0.25,"c":"P"},{"o":10,"k":-0.256,"c":"D"},{"o":10,"k":-0.26,"c":"P"},{"o":10,"k":-0.272,"c":"P"},{"o":10,"k":-0.282,"c":"P"},{"o":10,"k":-0.29,"c":"P"},{"o":10,"k":-0.304,"c":"D"},{"o":10,"k":-0.423,"c":"D"},{"o":10,"k":-0.437,"c":"D"},{"o":10,"k":-0.454,"c":"D"},{"o":10,"k":-0.472,"c":"D"},
{"o":11,"k":-0.172,"c":"P"},{"o":11,"k":-0.179,"c":"P"},{"o":11,"k":-0.188,"c":"P"},{"o":11,"k":-0.197,"c":"P"},{"o":11,"k":-0.206,"c":"P"},{"o":11,"k":-0.216,"c":"P"},{"o":11,"k":-0.225,"c":"P"},{"o":11,"k":-0.236,"c":"P"},{"o":11,"k":-0.244,"c":"P"},{"o":11,"k":-0.253,"c":"P"},{"o":11,"k":-0.265,"c":"D"},{"o":11,"k":-0.274,"c":"D"},{"o":11,"k":-0.288,"c":"D"},{"o":11,"k":-0.3,"c":"D"},{"o":11,"k":-0.311,"c":"D"},{"o":11,"k":-0.357,"c":"D"},{"o":11,"k":-0.386,"c":"D"},{"o":11,"k":-0.397,"c":"D"},{"o":11,"k":-0.408,"c":"D"},{"o":11,"k":-0.415,"c":"D"},{"o":11,"k":-0.423,"c":"D"},{"o":11,"k":-0.444,"c":"D"},
{"o":12,"k":-0.216,"c":"P"},{"o":12,"k":-0.223,"c":"P"},{"o":12,"k":-0.229,"c":"P"},{"o":12,"k":-0.235,"c":"P"},{"o":12,"k":-0.243,"c":"P"},{"o":12,"k":-0.251,"c":"P"},{"o":12,"k":-0.258,"c":"P"},{"o":12,"k":-0.265,"c":"P"},{"o":12,"k":-0.282,"c":"P"},{"o":12,"k":-0.304,"c":"P"},{"o":12,"k":-0.332,"c":"D"},{"o":12,"k":-0.401,"c":"D"},{"o":12,"k":-0.454,"c":"D"},
{"o":13,"k":-0.271,"c":"P"},{"o":13,"k":-0.344,"c":"P"},{"o":13,"k":-0.348,"c":"P"},{"o":13,"k":-0.352,"c":"D"},{"o":13,"k":-0.366,"c":"D"},{"o":13,"k":-0.385,"c":"D"},{"o":13,"k":-0.421,"c":"D"},
{"o":14,"k":-0.357,"c":"D"},{"o":14,"k":-0.368,"c":"D"},{"o":14,"k":-0.41,"c":"D"},{"o":14,"k":-0.428,"c":"D"}
],
"tA": [
{"r":0,"col":1,"c":"D","n":"C₁₄H₁₄O₅","oc":"O/C=0.36","hc":"H/C=1.00"},
{"r":0,"col":2,"c":"P","n":"C₁₅H₁₄O₇","oc":"O/C=0.47","hc":"H/C=0.87"},
{"r":0,"col":3,"c":"P","n":"C₁₆H₁₄O₉","oc":"O/C=0.56","hc":"H/C=0.81"},
{"r":1,"col":1,"c":"R","n":"C₁₄H₁₈O₅","oc":"O/C=0.36","hc":"H/C=1.25"},
{"r":1,"col":2,"c":"R","n":"C₁₅H₁₈O₇","oc":"O/C=0.47","hc":"H/C=1.17"},
{"r":1,"col":3,"c":"P","n":"C₁₆H₁₈O₉","oc":"O/C=0.56","hc":"H/C=1.06"},
{"r":2,"col":1,"c":"R","n":"C₁₅H₂₂O₄","oc":"O/C=0.27","hc":"H/C=1.43"},
{"r":2,"col":2,"c":"R","n":"C₁₆H₂₂O₆","oc":"O/C=0.38","hc":"H/C=1.34"},
{"r":2,"col":3,"c":"P","n":"C₁₇H₂₂O₈","oc":"O/C=0.47","hc":"H/C=1.24"},
{"r":2,"col":4,"c":"P","n":"C₁₈H₂₂O₁₀","oc":"O/C=0.56","hc":"H/C=1.17"},
{"r":3,"col":1,"c":"D","n":"C₁₈H₂₆O₄","oc":"O/C=0.22","hc":"H/C=1.44"},
{"r":3,"col":2,"c":"P","n":"C₁₉H₂₆O₆","oc":"O/C=0.32","hc":"H/C=1.32"},
{"r":3,"col":3,"c":"P","n":"C₂₀H₂₆O₈","oc":"O/C=0.40","hc":"H/C=1.25"}
],
"lA": [
{"r":0,"col":0,"l1":"C₁₄H₁₄₋ₙO₅(COOH)ₙ","l2":"(n=0, 1, 2)"},
{"r":1,"col":0,"l1":"C₁₄H₁₈₋ₙO₅(COOH)ₙ","l2":"(n=0, 1, 2)"},
{"r":2,"col":0,"l1":"C₁₅H₂₂₋ₙO₄(COOH)ₙ","l2":"(n=0, 1, 2, 3)"},
{"r":3,"col":0,"l1":"C₁₈H₂₆₋ₙO₄(COOH)ₙ","l2":"(n=0, 1, 2)"}
],
"tB": [
{"r":0,"col":1,"c":"R","n":"C₁₃H₁₄N₂O₃","oc":"O/C=0.23","hc":"H/C=1.04"},
{"r":0,"col":2,"c":"R","n":"C₁₄H₁₄N₂O₅","oc":"O/C=0.36","hc":"H/C=0.96"},
{"r":0,"col":3,"c":"R","n":"C₁₅H₁₄N₂O₇","oc":"O/C=0.47","hc":"H/C=0.90"},
{"r":0,"col":4,"c":"P","n":"C₁₆H₁₄N₂O₉","oc":"O/C=0.56","hc":"H/C=0.81"},
{"r":1,"col":1,"c":"P","n":"C₁₂H₁₇NO₃","oc":"O/C=0.25","hc":"H/C=1.33"},
{"r":1,"col":2,"c":"R","n":"C₁₃H₁₇NO₅","oc":"O/C=0.38","hc":"H/C=1.27"},
{"r":1,"col":3,"c":"R","n":"C₁₄H₁₇NO₇","oc":"O/C=0.50","hc":"H/C=1.18"},
{"r":1,"col":4,"c":"P","n":"C₁₅H₁₇NO₉","oc":"O/C=0.60","hc":"H/C=1.07"},
{"r":2,"col":1,"c":"D","n":"C₁₄H₁₈N₂O₄","oc":"O/C=0.29","hc":"H/C=1.29"},
{"r":2,"col":2,"c":"R","n":"C₁₅H₁₈N₂O₆","oc":"O/C=0.40","hc":"H/C=1.17"},
{"r":2,"col":3,"c":"P","n":"C₁₆H₁₈N₂O₈","oc":"O/C=0.50","hc":"H/C=1.06"},
{"r":2,"col":4,"c":"P","n":"C₁₇H₁₈N₂O₁₀","oc":"O/C=0.59","hc":"H/C=1.00"},
{"r":3,"col":1,"c":"D","n":"C₁₆H₂₀N₂O₄","oc":"O/C=0.25","hc":"H/C=1.25"},
{"r":3,"col":2,"c":"R","n":"C₁₇H₂₀N₂O₆","oc":"O/C=0.35","hc":"H/C=1.15"},
{"r":3,"col":3,"c":"P","n":"C₁₈H₂₀N₂O₈","oc":"O/C=0.44","hc":"H/C=1.06"},
{"r":3,"col":4,"c":"P","n":"C₁₉H₂₀N₂O₁₀","oc":"O/C=0.53","hc":"H/C=1.00"}
],
"lB": [
{"r":0,"col":0,"l1":"C₁₃H₁₄₋ₙN₂O₃(COOH)ₙ","l2":"(n=0, 1, 2, 3)"},
{"r":1,"col":0,"l1":"C₁₂H₁₇₋ₙNO₃(COOH)ₙ","l2":"(n=0, 1, 2, 3)"},
{"r":2,"col":0,"l1":"C₁₄H₁₈₋ₙN₂O₄(COOH)ₙ","l2":"(n=0, 1, 2, 3)"},
{"r":3,"col":0,"l1":"C₁₆H₂₀₋ₙN₂O₄(COOH)ₙ","l2":"(n=0, 1, 2, 3)"}
]
},
"concat": [
{
 "width": 265, "height": 189,
 "layer": [
  {"data": {"name": "A"},
   "mark": {"type": "point", "filled": true, "size": 18, "opacity": 1},
   "encoding": {
    "x": {"field": "o", "type": "quantitative", "scale": {"domain": [0, 14.4], "nice": false, "zero": false},
      "axis": {"title": null, "format": "d", "tickCount": 100, "labelOverlap": false, "values": [0,1,2,3,4,5,6,7,8,9,10,11,12,13,14], "labelExpr": "datum.value % 2 ? '' : datum.label", "tickSize": {"condition": {"test": "datum.value % 2 !== 0", "value": 2}, "value": 4}, "gridOpacity": {"condition": {"test": "datum.value % 2 !== 0", "value": 0}, "value": 1}}},
    "y": {"field": "k", "type": "quantitative", "scale": {"domain": [-0.5, 0], "nice": false, "zero": false},
      "axis": {"title": "Kendrick mass defect (COO)", "tickCount": 100, "labelOverlap": false, "titlePadding": 6, "tickSize": {"condition": {"test": "round(datum.value*100) % 10 !== 0", "value": 2}, "value": 3}, "values": [-0.5,-0.45,-0.4,-0.35,-0.3,-0.25,-0.2,-0.15,-0.1,-0.05,0], "labelExpr": "round(datum.value*100) % 10 !== 0 ? '' : replace(format(datum.value, '.1f'), '\u2212', '-')", "gridOpacity": {"condition": {"test": "round(datum.value*100) % 10 !== 0", "value": 0}, "value": 1}}},
    "color": {"field": "c", "type": "nominal", "scale": {"domain": ["D","R","P"], "range": ["#2d3a9a","#dc2027","#78bd3b"]},
      "legend": {"title": "Subcategories", "orient": "none", "legendX": 53, "legendY": -28, "direction": "horizontal", "titleOrient": "left", "titleFont": "Liberation Serif", "titleFontSize": 14, "titleFontWeight": "bold", "titleColor": "#000", "titlePadding": 30, "labelFont": "Liberation Serif", "labelFontSize": 13.5, "labelFontWeight": "bold", "labelColor": "#000", "symbolSize": 40, "columnPadding": 12, "labelOffset": 13, "labelExpr": "datum.label === 'D' ? 'Decomposed' : datum.label === 'R' ? 'Remained' : 'Produced'"}},
    "shape": {"field": "c", "type": "nominal", "scale": {"domain": ["D","R","P"], "range": ["square","triangle-up","circle"]},
      "legend": {"title": "Subcategories", "orient": "none", "legendX": 53, "legendY": -28, "direction": "horizontal", "titleOrient": "left", "titleFont": "Liberation Serif", "titleFontSize": 14, "titleFontWeight": "bold", "titleColor": "#000", "titlePadding": 30, "labelFont": "Liberation Serif", "labelFontSize": 13.5, "labelFontWeight": "bold", "labelColor": "#000", "symbolSize": 40, "columnPadding": 12, "labelOffset": 13, "labelExpr": "datum.label === 'D' ? 'Decomposed' : datum.label === 'R' ? 'Remained' : 'Produced'"}}
   }},
  {"data": {"values": [{"a": 1}]}, "mark": {"type": "rect", "fillOpacity": 0, "stroke": "#666", "strokeDash": [2, 2], "strokeWidth": 1},
   "encoding": {"x": {"datum": 3.5, "type": "quantitative"}, "x2": {"datum": 10.5}, "y": {"datum": -0.1, "type": "quantitative"}, "y2": {"datum": -0.27}}},
  {"data": {"values": [{"a": 1}]}, "mark": {"type": "rule", "color": "#000", "strokeWidth": 1},
   "encoding": {"x": {"datum": 13.25, "type": "quantitative"}, "x2": {"datum": 15.2}, "y": {"datum": -0.15, "type": "quantitative"}}},
  {"data": {"values": [{"a": 1}]}, "mark": {"type": "point", "shape": "triangle-right", "filled": true, "size": 30, "color": "#000", "opacity": 1},
   "encoding": {"x": {"datum": 15.25, "type": "quantitative"}, "y": {"datum": -0.15, "type": "quantitative"}}},
  {"data": {"values": [{"t": "CHO"}]}, "mark": {"type": "text", "align": "right", "baseline": "middle", "font": "Liberation Serif", "fontSize": 13, "fontWeight": "bold", "color": "#000"},
   "encoding": {"x": {"datum": 14.3, "type": "quantitative"}, "y": {"datum": -0.037, "type": "quantitative"}, "text": {"field": "t"}}},
  {"data": {"values": [{"t": "Lignins/CRAM-like"}]}, "mark": {"type": "text", "align": "right", "baseline": "middle", "font": "Liberation Serif", "fontSize": 11, "fontWeight": "bold", "color": "#000"},
   "encoding": {"x": {"datum": 14.3, "type": "quantitative"}, "y": {"datum": -0.077, "type": "quantitative"}, "text": {"field": "t"}}},
  {"data": {"values": [{"t": "(a)"}]}, "mark": {"type": "text", "align": "center", "baseline": "middle", "font": "Liberation Serif", "fontSize": 16, "fontWeight": "bold", "color": "#000"},
   "encoding": {"x": {"datum": -1.82, "type": "quantitative"}, "y": {"datum": 0.0415, "type": "quantitative"}, "text": {"field": "t"}}}
 ]
},
{
 "width": 244, "height": 189,
 "layer": [
  {"data": {"values": [{"k": -0.1378}, {"k": -0.1703}, {"k": -0.2064}, {"k": -0.2473}]}, "mark": {"type": "rule", "color": "#9a9a9a", "strokeWidth": 1.8},
   "encoding": {"y": {"field": "k", "type": "quantitative", "title": null}, "x": {"datum": 3.5, "type": "quantitative"}, "x2": {"datum": 10.1}}},
  {"data": {"name": "A"},
   "mark": {"type": "point", "filled": true, "size": 18, "opacity": 1, "clip": true},
   "encoding": {
    "x": {"field": "o", "type": "quantitative", "scale": {"domain": [3.5, 10.5], "nice": false, "zero": false},
      "axis": {"title": null, "format": "d", "tickCount": 100, "labelOverlap": false, "values": [4,5,6,7,8,9,10]}},
    "y": {"field": "k", "type": "quantitative", "scale": {"domain": [-0.26, -0.1], "nice": false, "zero": false},
      "axis": {"title": null, "tickCount": 100, "labelOverlap": false, "tickSize": {"condition": {"test": "(round(-datum.value*100)-10) % 4 !== 0", "value": 2}, "value": 3}, "values": [-0.26,-0.24,-0.22,-0.2,-0.18,-0.16,-0.14,-0.12,-0.1], "labelExpr": "(round(-datum.value*100)-10) % 4 !== 0 ? '' : replace(format(datum.value, '.2f'), '\u2212', '-')", "gridOpacity": {"condition": {"test": "(round(-datum.value*100)-10) % 4 !== 0", "value": 0}, "value": 1}}},
    "color": {"field": "c", "type": "nominal", "scale": {"domain": ["D","R","P"], "range": ["#2d3a9a","#dc2027","#78bd3b"]}, "legend": null},
    "shape": {"field": "c", "type": "nominal", "scale": {"domain": ["D","R","P"], "range": ["square","triangle-up","circle"]}, "legend": null}
   }}
 ]
},
{
 "width": 360, "height": 189,
 "view": {"stroke": null},
 "layer": [
  {"data": {"name": "tA"}, "mark": {"type": "text", "font": "DejaVu Serif", "fontSize": 9.5, "baseline": "middle", "align": "center"},
   "encoding": {"x": {"field": "col", "type": "quantitative", "scale": {"domain": [-0.873, 4.5], "nice": false, "zero": false}, "axis": null},
    "y": {"field": "r", "type": "quantitative", "scale": {"domain": [-0.212, 3.602], "nice": false, "zero": false, "reverse": true}, "axis": null},
    "text": {"field": "n"},
    "color": {"field": "c", "type": "nominal", "scale": {"domain": ["D","R","P"], "range": ["#2d3a9a","#dc2027","#5fae2e"]}, "legend": null}}},
  {"data": {"name": "tA"}, "mark": {"type": "text", "font": "Liberation Serif", "fontSize": 8, "fontWeight": "bold", "baseline": "middle", "align": "center", "dy": 15},
   "encoding": {"x": {"field": "col", "type": "quantitative"}, "y": {"field": "r", "type": "quantitative"}, "text": {"field": "oc"}, "color": {"field": "c", "type": "nominal", "legend": null}}},
  {"data": {"name": "tA"}, "mark": {"type": "text", "font": "Liberation Serif", "fontSize": 8, "fontWeight": "bold", "baseline": "middle", "align": "center", "dy": 27},
   "encoding": {"x": {"field": "col", "type": "quantitative"}, "y": {"field": "r", "type": "quantitative"}, "text": {"field": "hc"}, "color": {"field": "c", "type": "nominal", "legend": null}}},
  {"data": {"name": "lA"}, "mark": {"type": "text", "font": "DejaVu Serif", "fontSize": 10.5, "fontWeight": "bold", "baseline": "middle", "align": "center", "dx": -32, "dy": 4.5, "color": "#000"},
   "encoding": {"x": {"field": "col", "type": "quantitative"}, "y": {"field": "r", "type": "quantitative"}, "text": {"field": "l1"}}},
  {"data": {"name": "lA"}, "mark": {"type": "text", "font": "Liberation Serif", "fontSize": 12, "fontWeight": "bold", "baseline": "middle", "align": "center", "dx": -32, "dy": 19, "color": "#000"},
   "encoding": {"x": {"field": "col", "type": "quantitative"}, "y": {"field": "r", "type": "quantitative"}, "text": {"field": "l2"}}},
  {"data": {"values": [{"t": "Formula [M+H]:"}]}, "mark": {"type": "text", "font": "Liberation Sans", "fontSize": 15, "fontWeight": "bold", "baseline": "middle", "align": "left", "color": "#000"},
   "encoding": {"x": {"datum": -1.276, "type": "quantitative"}, "y": {"datum": -0.642, "type": "quantitative"}, "text": {"field": "t"}}}
 ]
},
{
 "width": 265, "height": 189,
 "layer": [
  {"data": {"name": "B"},
   "mark": {"type": "point", "filled": true, "size": 18, "opacity": 1},
   "encoding": {
    "x": {"field": "o", "type": "quantitative", "scale": {"domain": [0, 14.4], "nice": false, "zero": false},
      "axis": {"title": "Oxygen number", "format": "d", "tickCount": 100, "labelOverlap": false, "titlePadding": 4, "values": [0,1,2,3,4,5,6,7,8,9,10,11,12,13,14], "labelExpr": "datum.value % 2 ? '' : datum.label", "tickSize": {"condition": {"test": "datum.value % 2 !== 0", "value": 2}, "value": 4}, "gridOpacity": {"condition": {"test": "datum.value % 2 !== 0", "value": 0}, "value": 1}}},
    "y": {"field": "k", "type": "quantitative", "scale": {"domain": [-0.5, 0], "nice": false, "zero": false},
      "axis": {"title": "Kendrick mass defect (COO)", "tickCount": 100, "labelOverlap": false, "titlePadding": 6, "tickSize": {"condition": {"test": "round(datum.value*100) % 10 !== 0", "value": 2}, "value": 3}, "values": [-0.5,-0.45,-0.4,-0.35,-0.3,-0.25,-0.2,-0.15,-0.1,-0.05,0], "labelExpr": "round(datum.value*100) % 10 !== 0 ? '' : replace(format(datum.value, '.1f'), '\u2212', '-')", "gridOpacity": {"condition": {"test": "round(datum.value*100) % 10 !== 0", "value": 0}, "value": 1}}},
    "color": {"field": "c", "type": "nominal", "scale": {"domain": ["D","R","P"], "range": ["#2d3a9a","#dc2027","#78bd3b"]}, "legend": null},
    "shape": {"field": "c", "type": "nominal", "scale": {"domain": ["D","R","P"], "range": ["square","triangle-up","circle"]}, "legend": null}
   }},
  {"data": {"values": [{"a": 1}]}, "mark": {"type": "rect", "fillOpacity": 0, "stroke": "#666", "strokeDash": [2, 2], "strokeWidth": 1},
   "encoding": {"x": {"datum": 2.5, "type": "quantitative"}, "x2": {"datum": 11.5}, "y": {"datum": -0.125, "type": "quantitative"}, "y2": {"datum": -0.255}}},
  {"data": {"values": [{"a": 1}]}, "mark": {"type": "rule", "color": "#000", "strokeWidth": 1},
   "encoding": {"x": {"datum": 13.25, "type": "quantitative"}, "x2": {"datum": 15.2}, "y": {"datum": -0.163, "type": "quantitative"}}},
  {"data": {"values": [{"a": 1}]}, "mark": {"type": "point", "shape": "triangle-right", "filled": true, "size": 30, "color": "#000", "opacity": 1},
   "encoding": {"x": {"datum": 15.25, "type": "quantitative"}, "y": {"datum": -0.163, "type": "quantitative"}}},
  {"data": {"values": [{"t": "CHON"}]}, "mark": {"type": "text", "align": "right", "baseline": "middle", "font": "Liberation Serif", "fontSize": 13, "fontWeight": "bold", "color": "#000"},
   "encoding": {"x": {"datum": 14.3, "type": "quantitative"}, "y": {"datum": -0.035, "type": "quantitative"}, "text": {"field": "t"}}},
  {"data": {"values": [{"t": "Lignins/CRAM-like"}]}, "mark": {"type": "text", "align": "right", "baseline": "middle", "font": "Liberation Serif", "fontSize": 11, "fontWeight": "bold", "color": "#000"},
   "encoding": {"x": {"datum": 14.3, "type": "quantitative"}, "y": {"datum": -0.077, "type": "quantitative"}, "text": {"field": "t"}}},
  {"data": {"values": [{"t": "(b)"}]}, "mark": {"type": "text", "align": "center", "baseline": "middle", "font": "Liberation Serif", "fontSize": 16, "fontWeight": "bold", "color": "#000"},
   "encoding": {"x": {"datum": -1.82, "type": "quantitative"}, "y": {"datum": 0.025, "type": "quantitative"}, "text": {"field": "t"}}}
 ]
},
{
 "width": 244, "height": 189,
 "layer": [
  {"data": {"values": [{"k": -0.1499}, {"k": -0.1651}, {"k": -0.1838}, {"k": -0.2055}]}, "mark": {"type": "rule", "color": "#6e6e6e", "strokeWidth": 1.6},
   "encoding": {"y": {"field": "k", "type": "quantitative", "title": null}, "x": {"datum": 2.5, "type": "quantitative"}, "x2": {"datum": 10.1}}},
  {"data": {"name": "B"},
   "mark": {"type": "point", "filled": true, "size": 18, "opacity": 1, "clip": true},
   "encoding": {
    "x": {"field": "o", "type": "quantitative", "scale": {"domain": [2.5, 10.5], "nice": false, "zero": false},
      "axis": {"title": "Oxygen number", "format": "d", "tickCount": 100, "labelOverlap": false, "titlePadding": 4, "values": [3,4,5,6,7,8,9,10]}},
    "y": {"field": "k", "type": "quantitative", "scale": {"domain": [-0.22, -0.14], "nice": false, "zero": false},
      "axis": {"title": null, "tickCount": 100, "labelOverlap": false, "tickSize": {"condition": {"test": "round(-datum.value*100) % 2 !== 0", "value": 2}, "value": 3}, "values": [-0.22,-0.21,-0.2,-0.19,-0.18,-0.17,-0.16,-0.15,-0.14], "labelExpr": "round(-datum.value*100) % 2 !== 0 ? '' : replace(format(datum.value, '.2f'), '\u2212', '-')", "gridOpacity": {"condition": {"test": "round(-datum.value*100) % 2 !== 0", "value": 0}, "value": 1}}},
    "color": {"field": "c", "type": "nominal", "scale": {"domain": ["D","R","P"], "range": ["#2d3a9a","#dc2027","#78bd3b"]}, "legend": null},
    "shape": {"field": "c", "type": "nominal", "scale": {"domain": ["D","R","P"], "range": ["square","triangle-up","circle"]}, "legend": null}
   }}
 ]
},
{
 "width": 360, "height": 189,
 "view": {"stroke": null},
 "layer": [
  {"data": {"name": "tB"}, "mark": {"type": "text", "font": "DejaVu Serif", "fontSize": 9.5, "baseline": "middle", "align": "center"},
   "encoding": {"x": {"field": "col", "type": "quantitative", "scale": {"domain": [-0.873, 4.5], "nice": false, "zero": false}, "axis": null},
    "y": {"field": "r", "type": "quantitative", "scale": {"domain": [-0.263, 3.602], "nice": false, "zero": false, "reverse": true}, "axis": null},
    "text": {"field": "n"},
    "color": {"field": "c", "type": "nominal", "scale": {"domain": ["D","R","P"], "range": ["#2d3a9a","#dc2027","#5fae2e"]}, "legend": null}}},
  {"data": {"name": "tB"}, "mark": {"type": "text", "font": "Liberation Serif", "fontSize": 8, "fontWeight": "bold", "baseline": "middle", "align": "center", "dy": 15},
   "encoding": {"x": {"field": "col", "type": "quantitative"}, "y": {"field": "r", "type": "quantitative"}, "text": {"field": "oc"}, "color": {"field": "c", "type": "nominal", "legend": null}}},
  {"data": {"name": "tB"}, "mark": {"type": "text", "font": "Liberation Serif", "fontSize": 8, "fontWeight": "bold", "baseline": "middle", "align": "center", "dy": 27},
   "encoding": {"x": {"field": "col", "type": "quantitative"}, "y": {"field": "r", "type": "quantitative"}, "text": {"field": "hc"}, "color": {"field": "c", "type": "nominal", "legend": null}}},
  {"data": {"name": "lB"}, "mark": {"type": "text", "font": "DejaVu Serif", "fontSize": 10.5, "fontWeight": "bold", "baseline": "middle", "align": "center", "dx": -32, "dy": 4.5, "color": "#000"},
   "encoding": {"x": {"field": "col", "type": "quantitative"}, "y": {"field": "r", "type": "quantitative"}, "text": {"field": "l1"}}},
  {"data": {"name": "lB"}, "mark": {"type": "text", "font": "Liberation Serif", "fontSize": 12, "fontWeight": "bold", "baseline": "middle", "align": "center", "dx": -32, "dy": 19, "color": "#000"},
   "encoding": {"x": {"field": "col", "type": "quantitative"}, "y": {"field": "r", "type": "quantitative"}, "text": {"field": "l2"}}}
 ]
}
]
}
